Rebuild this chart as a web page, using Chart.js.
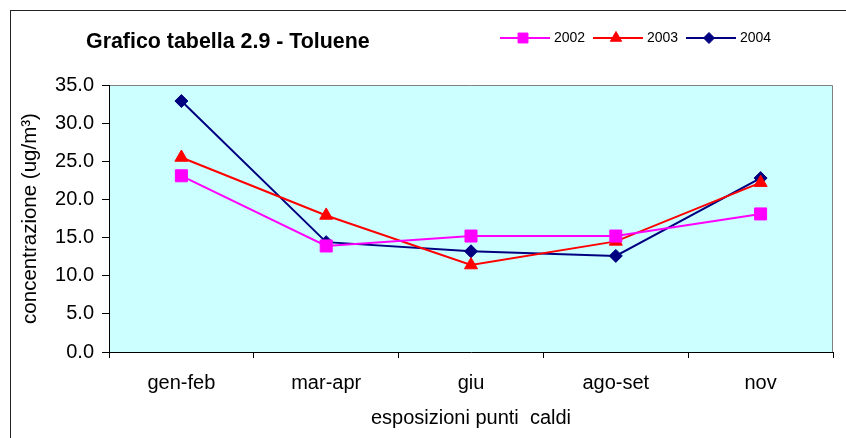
<!DOCTYPE html>
<html>
<head>
<meta charset="utf-8">
<title>Grafico tabella 2.9 - Toluene</title>
<script src="https://cdn.jsdelivr.net/npm/chart.js"></script>
<style>
    body { margin: 0; background: #fff; }
    #wrap { width: 846px; height: 438px; }
</style>
</head>
<body>
<div id="wrap"><canvas id="myChart" width="846" height="438"></canvas></div>
<script>
// data
const categories = ['gen-feb', 'mar-apr', 'giu', 'ago-set', 'nov'];
const years = ['2002', '2003', '2004'];
const values2002 = [23.1, 13.9, 15.2, 15.2, 18.1];
const values2003 = [25.5, 17.9, 11.4, 14.5, 22.2];
const values2004 = [32.9, 14.4, 13.2, 12.6, 22.8];

const chartTitle = 'Grafico tabella 2.9 - Toluene';
const yTitle = 'concentrazione (ug/m³)';
const xTitle = 'esposizioni punti  caldi';

const FONT = "'Liberation Sans', Arial, sans-serif";

// frame, plot background, title and legend
const decor = {
    id: 'decor',
    beforeDraw(chart) {
        const ctx = chart.ctx;
        const a = chart.chartArea;
        ctx.save();
        ctx.fillStyle = '#ffffff';
        ctx.fillRect(0, 0, chart.width, chart.height);
        ctx.strokeStyle = '#222222';
        ctx.lineWidth = 1;
        ctx.strokeRect(10.5, 10.5, 900, 500);
        ctx.fillStyle = '#ccffff';
        ctx.fillRect(a.left, a.top, a.right - a.left, a.bottom - a.top);
        ctx.strokeStyle = '#808080';
        ctx.beginPath();
        ctx.moveTo(a.left, a.top + 0.5);
        ctx.lineTo(a.right - 0.5, a.top + 0.5);
        ctx.lineTo(a.right - 0.5, a.bottom);
        ctx.stroke();
        ctx.restore();
    },
    afterDraw(chart) {
        const ctx = chart.ctx;
        ctx.save();
        ctx.fillStyle = '#000';
        ctx.font = 'bold 21.4px ' + FONT;
        ctx.textBaseline = 'alphabetic';
        ctx.fillText(chartTitle, 86, 48);

        // legend
        let x = 500;
        const y = 38;
        chart.data.datasets.forEach(ds => {
            ctx.strokeStyle = ds.borderColor;
            ctx.lineWidth = 2;
            ctx.beginPath();
            ctx.moveTo(x, y);
            ctx.lineTo(x + 50, y);
            ctx.stroke();
            ctx.fillStyle = ds.backgroundColor;
            ctx.strokeStyle = ds.borderColor;
            ctx.lineWidth = 1;
            Chart.helpers.drawPoint(ctx, {
                pointStyle: ds.pointStyle,
                radius: ds.legendRadius,
                rotation: 0,
                borderWidth: 1
            }, x + 23, y);
            ctx.fillStyle = '#000';
            ctx.font = '14px ' + FONT;
            ctx.textBaseline = 'middle';
            ctx.fillText(ds.label, x + 54, y);
            x += 93;
        });
        ctx.restore();
    }
};

const ctx = document.getElementById('myChart').getContext('2d');

const myChart = new Chart(ctx, {
    type: 'line',
    data: {
        labels: categories,
        datasets: [{
            label: years[0],
            data: values2002,
            borderColor: '#ff00ff',
            backgroundColor: '#ff00ff',
            borderWidth: 2,
            pointStyle: 'rect',
            pointRadius: 8.5,
            pointBorderWidth: 1,
            legendRadius: 7
        }, {
            label: years[1],
            data: values2003,
            borderColor: '#ff0000',
            backgroundColor: '#ff0000',
            borderWidth: 2,
            pointStyle: 'triangle',
            pointRadius: 7.5,
            pointBorderWidth: 1,
            legendRadius: 6.5
        }, {
            label: years[2],
            data: values2004,
            borderColor: '#000080',
            backgroundColor: '#000080',
            borderWidth: 2,
            pointStyle: 'rectRot',
            pointRadius: 6.5,
            pointBorderWidth: 1,
            legendRadius: 5.5
        }]
    },
    options: {
        responsive: false,
        animation: false,
        devicePixelRatio: 1,
        layout: {
            padding: { left: 0, right: 13, top: 85, bottom: 0 }
        },
        scales: {
            x: {
                offset: true,
                afterFit: (scale) => { scale.height = 86; },
                grid: {
                    offset: true,
                    drawOnChartArea: false,
                    tickLength: 6,
                    color: '#000'
                },
                border: { display: true, color: '#000', width: 1 },
                ticks: {
                    color: '#000',
                    padding: 13,
                    maxRotation: 0,
                    font: { family: FONT, size: 20 }
                },
                title: {
                    display: true,
                    text: xTitle,
                    color: '#000',
                    padding: { top: 0, bottom: 8 },
                    font: { family: FONT, size: 20 }
                }
            },
            y: {
                min: 0,
                max: 35,
                afterFit: (scale) => { scale.width = 109; },
                grid: {
                    drawOnChartArea: false,
                    tickLength: 7,
                    color: '#000'
                },
                border: { display: true, color: '#000', width: 1 },
                ticks: {
                    stepSize: 5,
                    color: '#000',
                    padding: 8,
                    font: { family: FONT, size: 20 },
                    callback: (v) => v.toFixed(1)
                },
                title: {
                    display: true,
                    text: yTitle,
                    color: '#000',
                    padding: { top: 18, bottom: 0 },
                    font: { family: FONT, size: 20.5 }
                }
            }
        },
        plugins: {
            legend: { display: false },
            title: { display: false },
            tooltip: { enabled: false }
        }
    },
    plugins: [decor]
});
</script>
</body>
</html>
